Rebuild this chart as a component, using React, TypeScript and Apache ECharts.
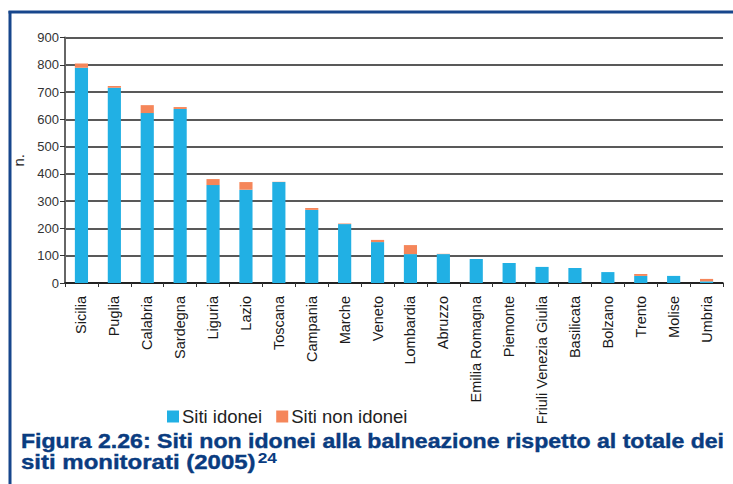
import React, { useEffect, useRef } from "react";
import * as echarts from "echarts";

const categories = [
  "Sicilia", "Puglia", "Calabria", "Sardegna", "Liguria", "Lazio", "Toscana",
  "Campania", "Marche", "Veneto", "Lombardia", "Abruzzo", "Emilia Romagna",
  "Piemonte", "Friuli Venezia Giulia", "Basilicata", "Bolzano", "Trento",
  "Molise", "Umbria",
];
const sitiIdonei = [789, 716, 623, 638, 359, 342, 370, 268, 216, 150, 106, 106, 88, 73, 59, 55, 40, 26, 26, 6];
const sitiNonIdonei = [16, 6, 29, 7, 22, 28, 1, 7, 2, 8, 33, 1, 0, 0, 0, 0, 0, 7, 0, 9];
const seriesNames = ["Siti idonei", "Siti non idonei"];
const yAxisName = "n.";
const titleLine1 = "Figura 2.26: Siti non idonei alla balneazione rispetto al totale dei";
const titleLine2 = "siti monitorati (2005)";
const titleSup = "24";

const FONT = '"Liberation Sans", Arial, Helvetica, sans-serif';
const BLUE = "#21b0e4";
const ORANGE = "#f5865a";
const FRAME = "#17468c";
const TITLE = "#0a3c80";

export default function App() {
  const ref = useRef<HTMLDivElement>(null);
  useEffect(() => {
    document.body.style.margin = "0";
    if (!ref.current) return;
    const chart = echarts.init(ref.current, undefined, { renderer: "svg" });
    const titleScale = 1.155;
    const line2Scale = 1.2;
    const line2Width = 9.78 * 20 * line2Scale;
    chart.setOption({
      animation: false,
      backgroundColor: "#ffffff",
      textStyle: { fontFamily: FONT },
      grid: { left: 65, right: 10, top: 37.5, bottom: 201, containLabel: false },
      legend: {
        left: 162,
        top: 402,
        itemWidth: 12,
        itemHeight: 12,
        itemGap: 14,
        icon: "rect",
        data: seriesNames,
        textStyle: { fontSize: 18.5, color: "#222", fontFamily: FONT, padding: [0, 0, 0, -2] },
      },
      xAxis: {
        type: "category",
        data: categories,
        boundaryGap: true,
        axisLine: { show: true, lineStyle: { color: "#111", width: 1.5 } },
        axisTick: { show: true, length: 4, lineStyle: { color: "#333", width: 1 } },
        axisLabel: {
          interval: 0,
          rotate: 90,
          fontSize: 14.5,
          color: "#1a1a1a",
          margin: 13,
          fontFamily: FONT,
        },
      },
      yAxis: {
        type: "value",
        min: 0,
        max: 900,
        interval: 100,
        name: yAxisName,
        nameLocation: "middle",
        nameRotate: 90,
        nameGap: 39,
        nameTextStyle: { fontSize: 15, color: "#222", fontFamily: FONT },
        axisLine: { show: true, lineStyle: { color: "#666", width: 2 } },
        axisTick: { show: true, length: 5, lineStyle: { color: "#333", width: 1 } },
        axisLabel: { fontSize: 13, color: "#333", margin: 6, fontFamily: FONT },
        splitLine: { show: true, lineStyle: { color: "#222", width: 1.5 } },
      },
      series: [
        {
          name: seriesNames[0],
          type: "bar",
          stack: "total",
          barWidth: "40%",
          itemStyle: { color: BLUE },
          data: sitiIdonei,
        },
        {
          name: seriesNames[1],
          type: "bar",
          stack: "total",
          barWidth: "40%",
          itemStyle: { color: ORANGE },
          data: sitiNonIdonei,
        },
      ],
      graphic: [
        {
          type: "line",
          shape: { x1: 10, y1: 11, x2: 10, y2: 484 },
          style: { stroke: FRAME, lineWidth: 3 },
        },
        {
          type: "line",
          shape: { x1: 8.5, y1: 12, x2: 733, y2: 12 },
          style: { stroke: FRAME, lineWidth: 3 },
        },
        {
          type: "text",
          x: 21,
          y: 441,
          scaleX: titleScale,
          style: {
            text: titleLine1,
            fontSize: 20,
            fontWeight: "bold",
            fontFamily: FONT,
            fill: TITLE,
            stroke: TITLE,
            lineWidth: 0.4,
            verticalAlign: "middle",
            align: "left",
          },
        },
        {
          type: "text",
          x: 21,
          y: 462,
          scaleX: line2Scale,
          style: {
            text: titleLine2,
            fontSize: 20,
            fontWeight: "bold",
            fontFamily: FONT,
            fill: TITLE,
            stroke: TITLE,
            lineWidth: 0.4,
            verticalAlign: "middle",
            align: "left",
          },
        },
        {
          type: "text",
          x: 21 + line2Width + 2,
          y: 457,
          scaleX: titleScale,
          style: {
            text: titleSup,
            fontSize: 15,
            fontWeight: "bold",
            fontFamily: FONT,
            fill: TITLE,
            verticalAlign: "middle",
            align: "left",
          },
        },
      ],
    });
    return () => chart.dispose();
  }, []);
  return <div ref={ref} style={{ width: 733, height: 484 }} />;
}
